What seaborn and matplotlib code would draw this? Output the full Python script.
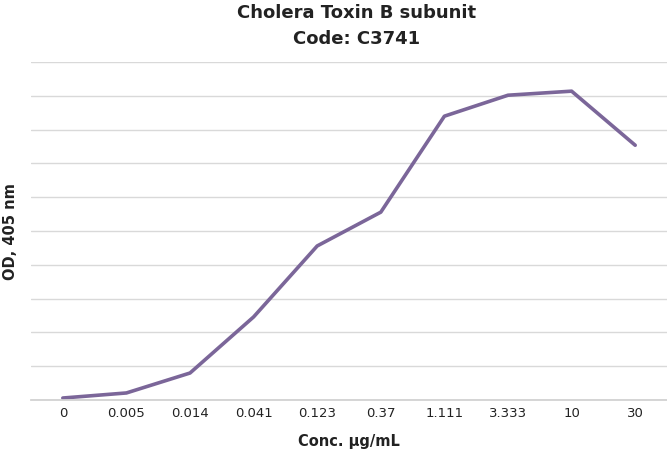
import matplotlib.pyplot as plt
import seaborn as sns
import pandas as pd

plt.switch_backend('agg')

conc_labels = ['0', '0.005', '0.014', '0.041', '0.123', '0.37', '1.111', '3.333', '10', '30']
od_values = [0.006, 0.021, 0.080, 0.246, 0.456, 0.556, 0.840, 0.902, 0.914, 0.754]

df = pd.DataFrame({'conc': conc_labels, 'od': od_values})

sns.set_theme(style='white')
plt.rcParams['font.family'] = ['DejaVu Sans']

fig = plt.figure(figsize=(6.67, 4.5), dpi=100)
ax = fig.add_axes([0.0465, 0.111, 0.9535, 0.751])

sns.lineplot(data=df, x='conc', y='od', sort=False, color='#7b6699', linewidth=2.6, ax=ax)

ax.set_xlim(-0.5, len(conc_labels) - 0.5)
ax.set_ylim(0, 1.0)
ax.set_yticks([i / 10 for i in range(11)])
ax.set_yticklabels([])
ax.yaxis.grid(True, color='#d9d9d9', linewidth=1)
ax.tick_params(axis='both', length=0)
ax.tick_params(axis='x', labelsize=9.5, colors='#222222', pad=5)
for s in ['top', 'right', 'left']:
    ax.spines[s].set_visible(False)
ax.spines['bottom'].set_color('#d0d0d0')

ax.set_xlabel('Conc. µg/mL', fontsize=10.5, fontweight='bold', color='#222222', labelpad=10)
ax.set_ylabel('OD, 405 nm', fontsize=10.5, fontweight='bold', color='#222222', labelpad=6)
fig.suptitle('Cholera Toxin B subunit\nCode: C3741', fontsize=13, fontweight='bold',
             color='#222222', x=0.535, y=0.99, linespacing=1.5)

fig.savefig('out.png', dpi=100)
